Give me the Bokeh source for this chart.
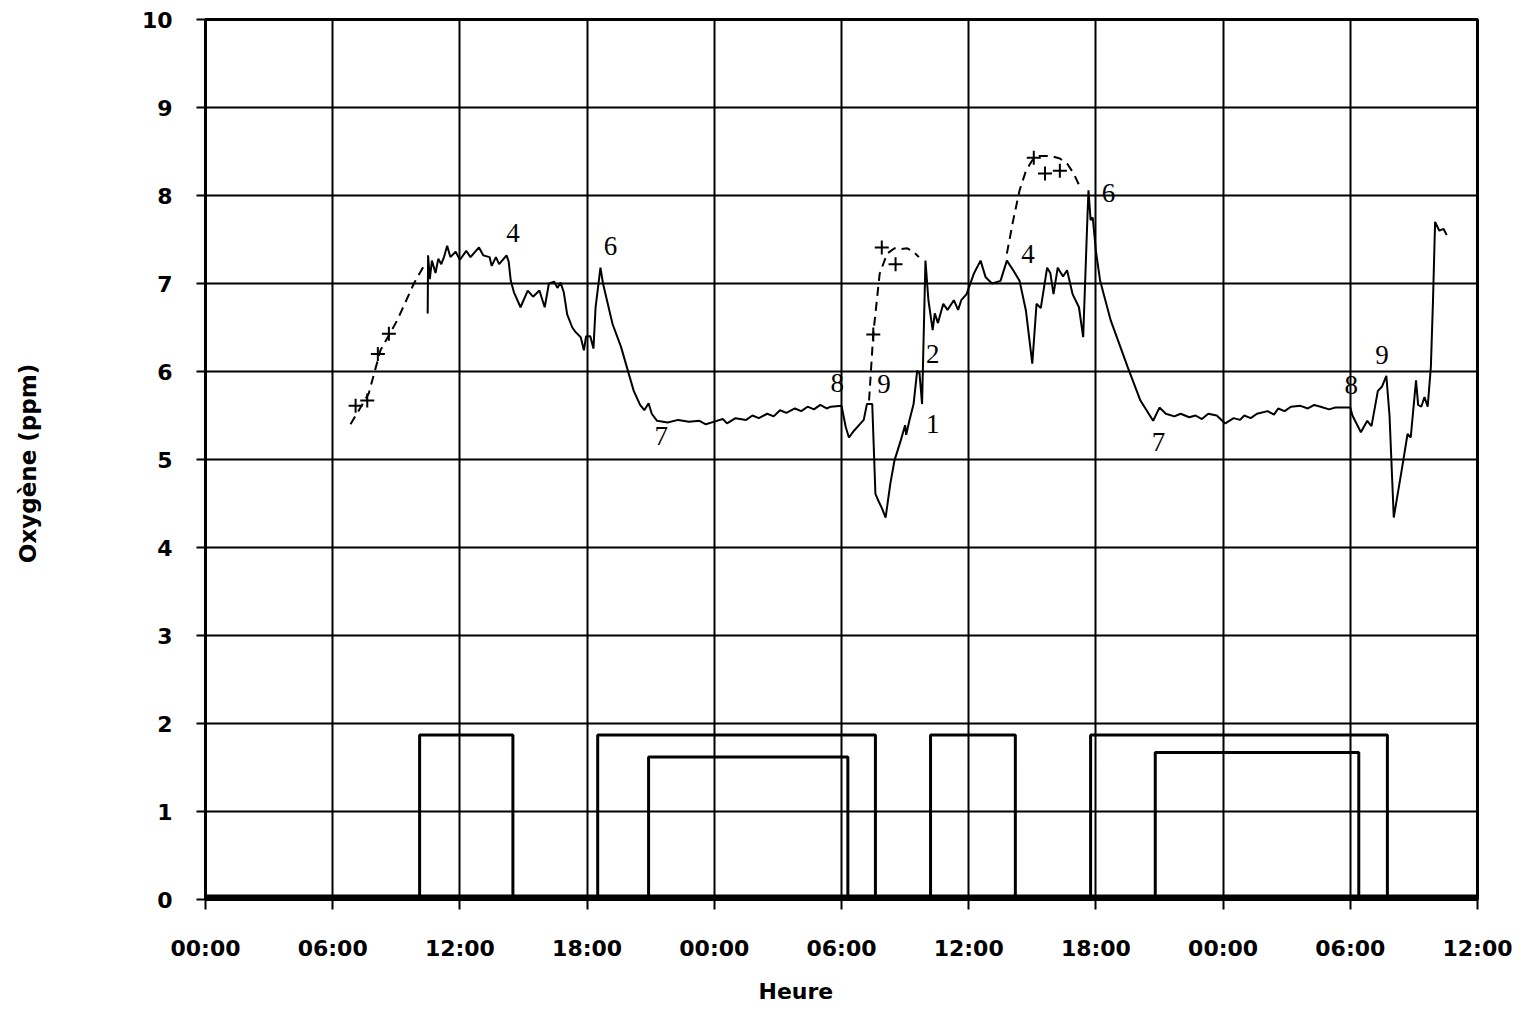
from bokeh.plotting import figure
from bokeh.models import Range1d, FixedTicker, Title
from bokeh.core.properties import value
from bokeh.embed import file_html
from bokeh.resources import INLINE

# ---------------- data ----------------
hour_ticks = [0, 6, 12, 18, 24, 30, 36, 42, 48, 54, 60]
hour_labels = ["00:00", "06:00", "12:00", "18:00", "00:00", "06:00",
               "12:00", "18:00", "00:00", "06:00", "12:00"]
oxy_ticks = [0, 1, 2, 3, 4, 5, 6, 7, 8, 9, 10]

# measured oxygen (hours since first midnight, ppm)
meas_t = [10.48, 10.50, 10.58, 10.68, 10.85, 10.98, 11.12, 11.25, 11.40, 11.55,
          11.80, 12.00, 12.30, 12.50, 12.90, 13.10, 13.40, 13.50, 13.70, 13.85,
          14.20, 14.30, 14.40, 14.55, 14.86, 15.20, 15.45, 15.75, 16.00, 16.20,
          16.45, 16.60, 16.75, 16.90, 17.06, 17.30, 17.45, 17.70, 17.85, 17.95,
          18.15, 18.30, 18.40, 18.63, 18.75, 19.20, 19.60, 19.97, 20.20, 20.50,
          20.70, 20.90, 21.05, 21.30, 21.80, 22.30, 22.80, 23.30, 23.60, 24.00,
          24.40, 24.60, 25.00, 25.50, 25.80, 26.10, 26.50, 26.80, 27.10, 27.40,
          27.80, 28.10, 28.40, 28.70, 29.00, 29.30, 29.50, 30.00, 30.20, 30.35,
          30.60, 30.90, 31.05, 31.20, 31.45, 31.60, 31.76, 31.90, 32.08, 32.30,
          32.50, 32.80, 33.00, 33.05, 33.20, 33.40, 33.57, 33.68, 33.80, 33.96,
          34.10, 34.30, 34.40, 34.55, 34.80, 35.00, 35.30, 35.50, 35.65, 35.90,
          36.24, 36.56, 36.80, 37.10, 37.50, 37.80, 38.10, 38.40, 38.70, 39.00,
          39.20, 39.40, 39.70, 39.85, 40.00, 40.20, 40.45, 40.64, 40.90, 41.20,
          41.40, 41.60, 41.65, 41.75, 41.85, 42.00, 42.20, 42.70, 43.50, 44.10,
          44.70, 45.00, 45.30, 45.70, 46.00, 46.40, 46.70, 47.00, 47.30, 47.70,
          48.10, 48.50, 48.80, 49.00, 49.30, 49.60, 50.10, 50.40, 50.60, 50.90,
          51.20, 51.65, 52.00, 52.30, 52.60, 53.00, 53.30, 54.00, 54.10, 54.50,
          54.80, 55.00, 55.30, 55.50, 55.70, 55.85, 56.05, 56.50, 56.70, 56.85,
          57.10, 57.20, 57.35, 57.50, 57.65, 57.80, 57.90, 58.00, 58.20, 58.40,
          58.55]
meas_o2 = [6.66, 7.32, 7.05, 7.26, 7.12, 7.28, 7.22, 7.30, 7.43, 7.30,
           7.36, 7.27, 7.37, 7.30, 7.41, 7.32, 7.30, 7.20, 7.30, 7.22,
           7.32, 7.25, 7.03, 6.90, 6.73, 6.92, 6.85, 6.92, 6.73, 7.00,
           7.02, 6.95, 7.01, 6.90, 6.65, 6.50, 6.45, 6.39, 6.24, 6.40,
           6.40, 6.26, 6.73, 7.18, 7.00, 6.54, 6.28, 5.97, 5.78, 5.62,
           5.56, 5.64, 5.52, 5.44, 5.42, 5.45, 5.43, 5.44, 5.40, 5.43,
           5.46, 5.41, 5.47, 5.45, 5.50, 5.47, 5.52, 5.49, 5.56, 5.53,
           5.58, 5.55, 5.60, 5.57, 5.62, 5.58, 5.60, 5.61, 5.37, 5.25,
           5.33, 5.41, 5.45, 5.63, 5.63, 4.61, 4.52, 4.45, 4.34, 4.72,
           4.99, 5.22, 5.39, 5.28, 5.44, 5.63, 6.01, 5.98, 5.63, 7.26,
           6.81, 6.47, 6.66, 6.55, 6.77, 6.70, 6.81, 6.70, 6.81, 6.88,
           7.11, 7.26, 7.07, 7.00, 7.03, 7.26, 7.15, 7.03, 6.69, 6.09,
           6.77, 6.72, 7.18, 7.12, 6.88, 7.18, 7.08, 7.15, 6.88, 6.73,
           6.39, 7.75, 8.06, 7.72, 7.75, 7.37, 7.03, 6.58, 6.05, 5.67,
           5.44, 5.59, 5.52, 5.49, 5.52, 5.48, 5.50, 5.46, 5.52, 5.50,
           5.41, 5.47, 5.45, 5.50, 5.47, 5.52, 5.55, 5.51, 5.58, 5.55,
           5.60, 5.61, 5.58, 5.62, 5.60, 5.57, 5.59, 5.59, 5.50, 5.31,
           5.44, 5.38, 5.78, 5.83, 5.95, 5.50, 4.34, 4.99, 5.29, 5.25,
           5.90, 5.62, 5.60, 5.71, 5.60, 6.05, 6.80, 7.70, 7.60, 7.62,
           7.55]

# estimated (dashed) curves
est1_t = [6.84, 7.70, 8.25, 9.04, 9.83, 10.30]
est1_o2 = [5.40, 5.75, 6.24, 6.58, 7.00, 7.20]
est2_t = [31.30, 31.50, 31.80, 32.15, 32.50, 32.80, 33.10, 33.40, 33.65]
est2_o2 = [5.67, 6.43, 7.11, 7.34, 7.40, 7.39, 7.40, 7.36, 7.30]
est3_t = [37.80, 38.10, 38.40, 38.70, 39.00, 39.35, 39.70, 40.00, 40.30, 40.65, 40.95, 41.30]
est3_o2 = [7.34, 7.72, 8.06, 8.28, 8.40, 8.45, 8.45, 8.44, 8.42, 8.36, 8.25, 8.07]

# discrete samples (+)
sample_t = [7.08, 7.63, 8.13, 8.65, 31.50, 31.90, 32.55, 39.07, 39.60, 40.30]
sample_o2 = [5.61, 5.67, 6.20, 6.43, 6.42, 7.41, 7.22, 8.43, 8.25, 8.28]

# on/off periods (step signals)
period_start = [10.10, 18.50, 20.90, 34.20, 41.75, 44.80]
period_end = [14.50, 31.60, 30.30, 38.20, 55.75, 54.40]
period_level = [1.87, 1.87, 1.62, 1.87, 1.87, 1.67]

# event numbers
event_text = ["4", "6", "7", "8", "9", "2", "1", "4", "6", "7", "8", "9"]
event_t = [14.50, 19.10, 21.50, 29.80, 32.00, 34.30, 34.30, 38.80, 42.60, 44.95, 54.05, 55.50]
event_o2 = [7.57, 7.43, 5.27, 5.87, 5.86, 6.20, 5.40, 7.34, 8.03, 5.20, 5.85, 6.19]

# ---------------- figure ----------------
W, H = 1520, 1016
FL, FT, FR, FB = 205, 19, 1477, 899   # frame edges on the page
p = figure(width=W, height=H, x_range=Range1d(hour_ticks[0], hour_ticks[-1]),
           y_range=Range1d(oxy_ticks[0], oxy_ticks[-1]),
           output_backend="svg", toolbar_location=None,
           min_border_left=FL, min_border_right=W - FR,
           min_border_top=FT, min_border_bottom=H - FB)
p.background_fill_color = "white"
p.border_fill_color = "white"
p.outline_line_color = "black"
p.outline_line_width = 3

p.xaxis.ticker = FixedTicker(ticks=hour_ticks)
p.yaxis.ticker = FixedTicker(ticks=oxy_ticks)
p.xaxis.major_label_overrides = {t: l for t, l in zip(hour_ticks, hour_labels)}
p.xgrid.ticker = FixedTicker(ticks=hour_ticks)
p.ygrid.ticker = FixedTicker(ticks=oxy_ticks)
for g in (p.xgrid, p.ygrid):
    g.grid_line_color = "black"
    g.grid_line_width = 2
    g.grid_line_alpha = 1.0

for ax in (p.xaxis, p.yaxis):
    ax.axis_line_color = "black"
    ax.axis_line_width = 2
    ax.major_tick_line_color = "black"
    ax.major_tick_line_width = 2
    ax.major_tick_in = 0
    ax.minor_tick_line_color = None
    ax.major_label_text_font = "DejaVu Sans"
    ax.major_label_text_font_style = "bold"
    ax.major_label_text_font_size = "22px"
    ax.major_label_text_color = "black"
    ax.axis_label_text_font = "DejaVu Sans"
    ax.axis_label_text_font_style = "bold"
    ax.axis_label_text_color = "black"
p.xaxis.major_tick_out = 10
p.xaxis.major_label_standoff = 26
p.yaxis.major_tick_out = 9
p.yaxis.major_label_standoff = 24

p.yaxis.axis_label = "Oxygène  (ppm)"
p.yaxis.axis_label_text_font_size = "23px"
p.yaxis.axis_label_standoff = 98

# x-axis title, placed slightly left of centre as in the original
p.add_layout(Title(text="Heure", align="left", offset=553, standoff=26,
                   text_font="DejaVu Sans", text_font_style="bold",
                   text_font_size="22px", text_color="black"), "below")

# thick zero line
p.line([hour_ticks[0], hour_ticks[-1]], [0, 0], line_color="black", line_width=10)

# step periods
xs = [[s, s, e, e] for s, e in zip(period_start, period_end)]
ys = [[0, lv, lv, 0] for lv in period_level]
p.multi_line(xs, ys, line_color="black", line_width=3)

# measured
p.line(meas_t, meas_o2, line_color="black", line_width=2)

# estimated dashed
for tt, oo in ((est1_t, est1_o2), (est2_t, est2_o2), (est3_t, est3_o2)):
    p.line(tt, oo, line_color="black", line_width=2, line_dash="9 6")

p.scatter(sample_t, sample_o2, marker="cross", size=14, line_color="black", line_width=2)

p.text(event_t, event_o2, text=event_text, text_font=value("Liberation Serif"),
       text_font_size="27px", text_align="center", text_baseline="middle",
       text_color="black")

open("out.html", "w").write(file_html(p, INLINE))
